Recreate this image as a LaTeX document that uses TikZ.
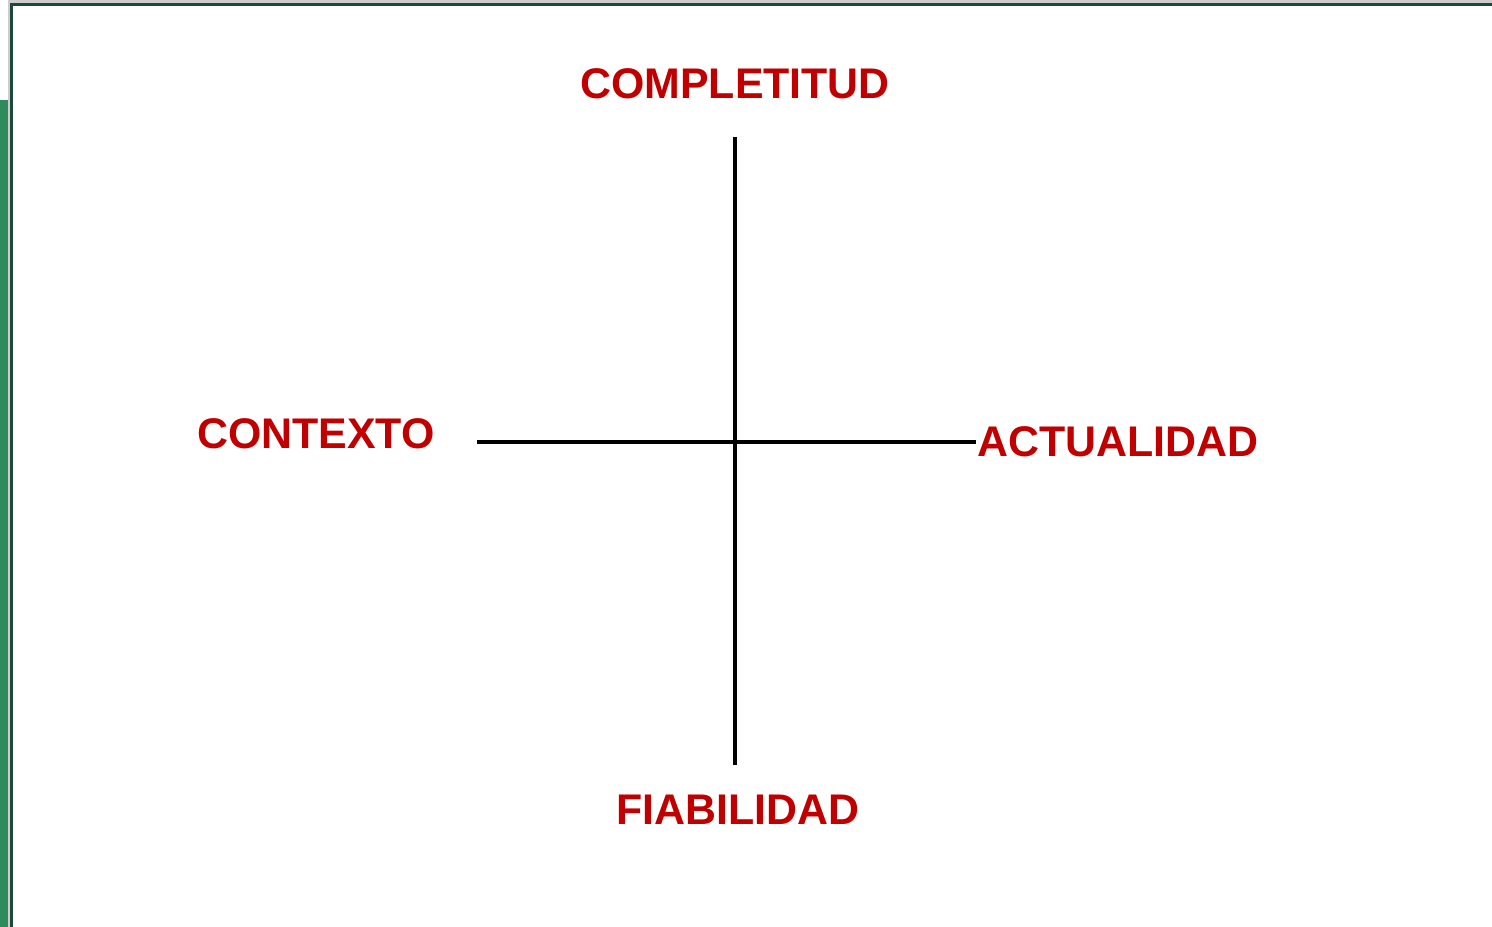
\documentclass[tikz,border=0pt]{standalone}
\usepackage{fontspec}
\setmainfont{Liberation Sans}
\usetikzlibrary{positioning}
\definecolor{labelred}{RGB}{192,0,0}
\definecolor{barGreen}{RGB}{47,138,92}
\definecolor{frameGreen}{RGB}{30,72,56}

\begin{document}
\begin{tikzpicture}[x=0.02cm, y=-0.02cm,
    axislabel/.style={text=labelred, font=\bfseries\fontsize{24.4}{28}\selectfont, inner sep=0pt}]
\useasboundingbox (0,0) rectangle (1492,927);

% slide frame
\fill[barGreen] (0,100) rectangle (11,927);
\draw[gray!40, line width=1.2pt] (9,927) -- (9,1.5) -- (1492,1.5);
\draw[frameGreen, line width=1.3pt] (11.5,927) -- (11.5,4.5) -- (1492,4.5);

\node (top) [axislabel] at (735,84) {COMPLETITUD};
\node (left) [axislabel] at (316,434) {CONTEXTO};
\node (right) [axislabel] at (1118,442) {ACTUALIDAD};
\node (bottom) [axislabel] at (738,810) {FIABILIDAD};

\coordinate (AxisTop) at (735,137);
\coordinate (AxisBottom) at (735,765);
\coordinate (AxisLeft) at (477,442);
\coordinate (AxisRight) at (976,442);

\draw[line width=2.2pt] (AxisTop) -- (AxisBottom);
\draw[line width=2.2pt] (AxisLeft) -- (AxisRight);

\end{tikzpicture}
\end{document}
